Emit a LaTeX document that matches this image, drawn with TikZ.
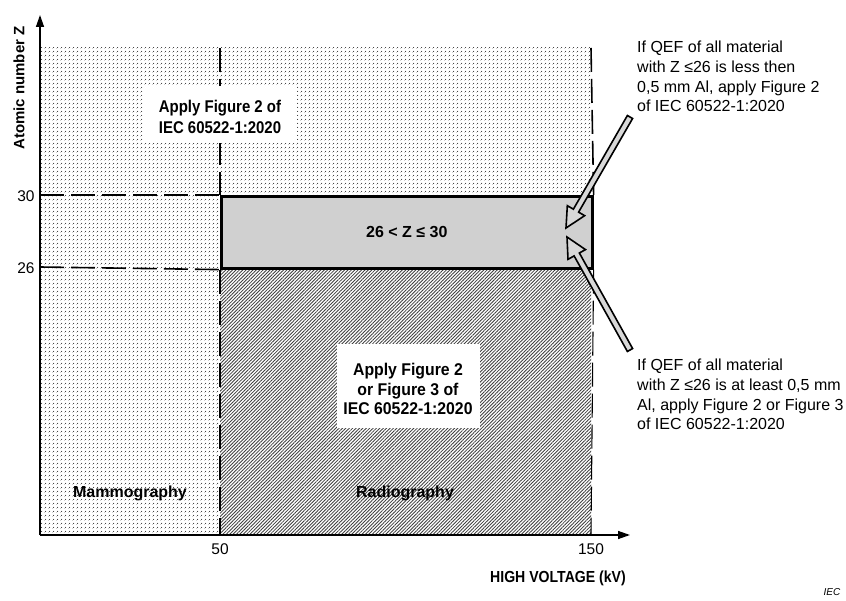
\documentclass[tikz,border=0pt]{standalone}
\usepackage{fontspec}
\setmainfont{Liberation Sans}
\newfontfamily\narrowA[FakeStretch=0.88]{Liberation Sans}
\newfontfamily\narrowB[FakeStretch=0.93]{Liberation Sans}
\usetikzlibrary{patterns,patterns.meta,arrows.meta,calc}
\definecolor{boxgray}{HTML}{D0D0D0}
\definecolor{arrgray}{HTML}{D8D8D8}
\pgfdeclarepatternformonly{finedots}{\pgfpointorigin}{\pgfqpoint{4pt}{4pt}}{\pgfqpoint{4pt}{4pt}}{%
  \pgfpathcircle{\pgfqpoint{0pt}{0pt}}{.65pt}%
  \pgfpathcircle{\pgfqpoint{2pt}{2pt}}{.65pt}%
  \pgfusepath{fill}}
\newcommand\fatarrow[2]{%
  \coordinate (hh) at ($(#2)!20pt!(#1)$);
  \draw[bigarrow] ($(#1)!3pt!90:(#2)$) -- ($(hh)!3pt!90:(#2)$) -- ($(hh)!10pt!90:(#2)$) -- (#2)
     -- ($(hh)!10pt!-90:(#2)$) -- ($(hh)!3pt!-90:(#2)$) -- ($(#1)!3pt!-90:(#2)$) -- cycle;}
\begin{document}
\begin{tikzpicture}[x=1pt,y=-1pt,
  lbl/.style={font=\fontsize{16}{19}\selectfont\bfseries, align=center, inner sep=0pt},
  note/.style={font=\fontsize{16}{19.7}\selectfont, align=left, anchor=north west, inner sep=0pt},
  tick/.style={font=\fontsize{15.5}{19}\selectfont, inner sep=0pt},
  dashln/.style={line width=1.6pt, dash pattern=on 24pt off 7pt},
  axisln/.style={line width=1.4pt, -{Triangle[length=12pt,width=8pt]}},
  bigarrow/.style={draw=black, line width=1.6pt, fill=arrgray, line join=miter}]
\useasboundingbox (0,0) rectangle (846,601);
% background areas
\fill[pattern=finedots, pattern color=black!80] (40,48) rectangle (591,535);
\fill[white] (220,267) rectangle (591,535);
\fill[pattern={Lines[angle=45,distance=2.4pt,line width=0.85pt]}, pattern color=black!75] (220,267) rectangle (591,535);
% gray band
\node[draw, line width=2.6pt, fill=boxgray, minimum width=371pt, minimum height=72pt, anchor=north west, lbl] (zbox) at (220,195) {26 < Z ≤ 30};
% reference coordinates
\coordinate (O) at (40,535);
\coordinate (ytop) at (40,15);
\coordinate (xend) at (630,535);
\coordinate (y30) at (40,195);
\coordinate (y26) at (40,267);
\coordinate (x50top) at (220,48);
\coordinate (x50bot) at (220,535);
\coordinate (x150top) at (591,48);
\coordinate (x150bot) at (591,535);
% dashed lines
\draw[dashln] (y30) -- (zbox.north west);
\draw[dashln] (y26) -- (zbox.south west);
\draw[dashln] (x50top) -- (zbox.north west);
\draw[line width=1.1pt, dash pattern=on 24pt off 7pt] (zbox.south west) -- (x50bot);
\draw[dashln] (x150top) -- (zbox.north east);
\draw[line width=1.1pt, dash pattern=on 24pt off 7pt] (zbox.south east) -- (x150bot);
% axes
\draw[axisln] (O) -- (ytop);
\draw[axisln] (O) -- (xend);
% ticks labels
\node[tick] (t30) at (26,196) {30};
\node[tick] (t26) at (26,268) {26};
\node[tick] (t50) at (220,549) {50};
\node[tick] (t150) at (591,549) {150};
\node[font=\fontsize{15}{19}\selectfont\bfseries, inner sep=0pt, rotate=90] (ylab) at (19,88) {Atomic number Z};
\node[font=\fontsize{16}{18}\selectfont\narrowA\bfseries, inner sep=0pt] (xlab) at (558,578) {HIGH VOLTAGE (kV)};
\node[font=\fontsize{10}{12}\selectfont\itshape, inner sep=0pt] (iec) at (832,592) {IEC};
% white boxes
\node[fill=white, minimum width=154pt, minimum height=57pt, inner sep=0pt] (box1) at (220,115) {};
\node[font=\fontsize{17}{21}\selectfont\narrowA\bfseries, align=center, inner sep=0pt] (txt1) at (220,117) {Apply Figure 2 of\\IEC 60522-1:2020};
\node[fill=white, minimum width=143pt, minimum height=83pt, inner sep=0pt] (box2) at (408,386) {};
\node[font=\fontsize{17}{19.5}\selectfont\narrowB\bfseries, align=center, inner sep=0pt] (txt2) at (408,389) {Apply Figure 2\\or Figure 3 of\\IEC 60522-1:2020};
% region labels
\node[lbl] (mam) at (130,493) {Mammography};
\node[lbl] (rad) at (405,493) {Radiography};
% notes
\node[note] (n1) at (637,41) {If QEF of all material\\with Z ≤26 is less then\\0,5 mm Al, apply Figure 2\\of IEC 60522-1:2020};
\node[note] (n2) at (637,359) {If QEF of all material\\with Z ≤26 is at least 0,5 mm\\Al, apply Figure 2 or Figure 3\\of IEC 60522-1:2020};
% hollow arrows
\coordinate (a1t) at (630,117);
\coordinate (a1p) at (566,228);
\coordinate (a2t) at (630,350);
\coordinate (a2p) at (567,237);
\fatarrow{a1t}{a1p}
\fatarrow{a2t}{a2p}
\end{tikzpicture}
\end{document}
